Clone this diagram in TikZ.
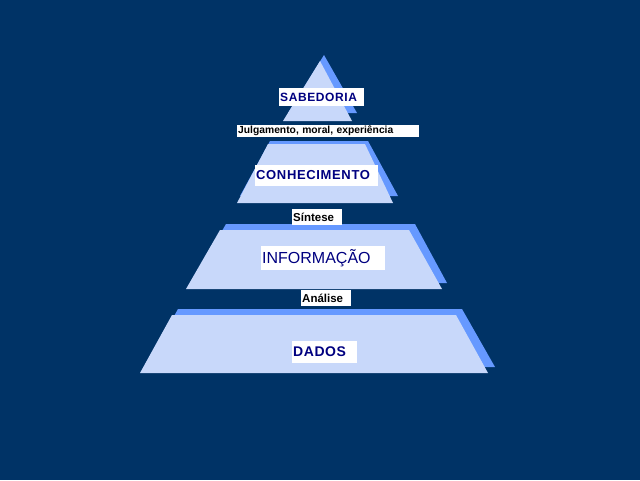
\documentclass[tikz,border=0pt]{standalone}
\usepackage{fontspec}
\setmainfont{Liberation Sans}
\setsansfont{Liberation Sans}
\usepackage{tikz}
\usetikzlibrary{calc,positioning,backgrounds}
\definecolor{bgnavy}{RGB}{0,51,102}
\definecolor{tierfill}{RGB}{200,216,250}
\definecolor{tiershade}{RGB}{102,153,255}
\definecolor{tagnavy}{RGB}{0,0,128}
\tikzset{%
  font=\sffamily,>=latex,
  tier/.style     = { fill=tierfill, draw=none },
  tiershade/.style= { fill=tiershade, draw=none },
  tag/.style      = { fill=white, inner xsep=1pt, inner ysep=0pt, anchor=west, align=left },
  level/.style    = { tag, text=tagnavy },
  step12/.style   = { tag, text=black, font=\fontsize{11.5}{12}\selectfont\bfseries }
}

\begin{document}
\begin{tikzpicture}[x=1pt,y=-1pt]
	\fill[bgnavy] (0,0) rectangle (640,480);
	\useasboundingbox (0,0) rectangle (640,480);
	% shadows
	\fill[tiershade] (324,55) -- (357,113) -- (288,113) -- cycle;
	\fill[tiershade] (270,141) -- (368,141) -- (398,196) -- (240,196) -- cycle;
	\fill[tiershade] (226,224) -- (415,224) -- (447,283) -- (192,283) -- cycle;
	\fill[tiershade] (178,309) -- (462,309) -- (495,367) -- (146,367) -- cycle;
	% tiers
	\fill[tier] (320,61) -- (352,121) -- (283,121) -- cycle;
	\fill[tier] (268,144) -- (365,144) -- (393,203) -- (237,203) -- cycle;
	\fill[tier] (220,230) -- (409,230) -- (442,289) -- (186,289) -- cycle;
	\fill[tier] (172,315) -- (456,315) -- (488,373) -- (140,373) -- cycle;
	% labels
	\node[level, text width=83pt, minimum height=18pt,
		font=\fontsize{12}{13}\selectfont\bfseries\addfontfeature{LetterSpace=5}]
		(sabedoria) at (279,97) {SABEDORIA};
	\node[tag, text=black, text width=180pt, minimum height=12pt,
		font=\fontsize{10.3}{11}\selectfont\bfseries]
		(julgamento) at (237,131) {Julgamento, moral, experiência};
	\node[level, text width=121pt, minimum height=21pt,
		font=\fontsize{13}{14}\selectfont\bfseries\addfontfeature{LetterSpace=5}]
		(conhecimento) at (255,175) {CONHECIMENTO};
	\node[step12, text width=48pt, minimum height=16pt] (sintese) at (292,217) {Síntese};
	\node[level, text width=122pt, minimum height=24pt,
		font=\fontsize{16}{17}\selectfont]
		(informacao) at (261,258) {INFORMAÇÃO};
	\node[step12, text width=48pt, minimum height=16pt] (analise) at (301,298) {Análise};
	\node[level, text width=63pt, minimum height=22pt,
		font=\fontsize{14}{15}\selectfont\bfseries\addfontfeature{LetterSpace=4}]
		(dados) at (292,352) {DADOS};
\end{tikzpicture}
\end{document}
